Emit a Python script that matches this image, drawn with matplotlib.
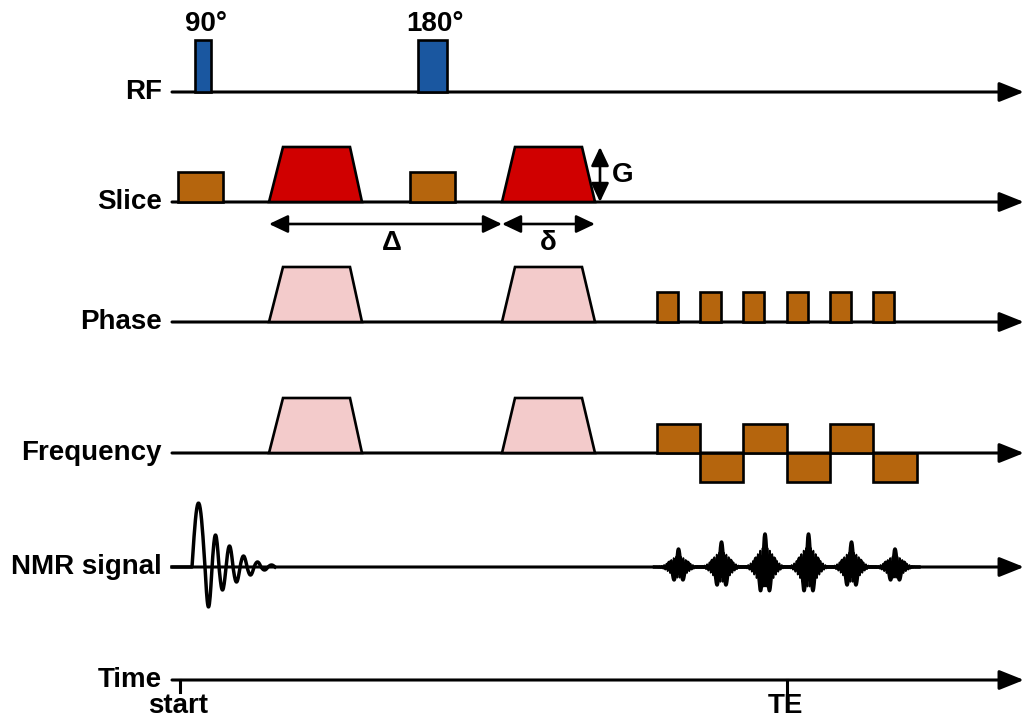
import numpy as np
import matplotlib
matplotlib.use("Agg")
from matplotlib import pyplot as plt
from matplotlib.patches import Polygon, Rectangle

plt.rcParams["font.family"] = ["Liberation Sans", "DejaVu Sans"]

# channel names and baseline positions (top to bottom)
channels = ["RF", "Slice", "Phase", "Frequency", "NMR signal", "Time"]
baselines = [92, 202, 322, 453, 567, 680]

# RF pulses: (start, end), flip angle label
rf_pulses = [(195, 211), (418, 447)]
rf_labels = ["90°", "180°"]
rf_height = 52

# slice-select gradient boxes
slice_boxes = [(178, 223), (410, 455)]
slice_height = 30

# diffusion gradient trapezoids: ramp-up start, plateau start, plateau end, ramp-down end
diff_lobes = [(269, 283, 350, 362), (502, 515, 582, 595)]
diff_height = 55

# phase-encode blips
blip_starts = [657, 700, 743, 787, 830, 873]
blip_width = 21
blip_height = 30

# readout gradient lobes
readout_edges = [657, 700, 743, 787, 830, 873, 917]
readout_signs = [1, -1, 1, -1, 1, -1]
readout_amp = 29

# FID half-cycle amplitudes after the 90° pulse
fid_start = 192
fid_amps = [64, -40, 32, -23, 21, -15, 11, -8, 5, -3, 2]

# echo peak amplitudes, one per readout lobe
echo_amps = [18, 25, 33, 33, 25, 18]

time_ticks = [180, 787]
time_labels = ["start", "TE"]

BLUE = "#1a57a0"
BROWN = "#b5650d"
RED = "#d00000"
PINK = "#f3cbcb"

fig = plt.figure(figsize=(10.27, 7.18), dpi=100)
ax = fig.add_axes([0, 0, 1, 1])
ax.set_xlim(0, 1027)
ax.set_ylim(718, 0)
ax.axis("off")

x0, x1 = 172, 1024
fs = 20
edge = dict(edgecolor="black", linewidth=1.9, zorder=3)

# baselines with arrow heads and channel names
for name, y in zip(channels, baselines):
    ax.annotate("", xy=(x1, y), xytext=(x0, y),
                arrowprops=dict(arrowstyle="-|>,head_length=0.75,head_width=0.3",
                                lw=2.2, color="black", mutation_scale=20,
                                shrinkA=0, shrinkB=0))
    ax.text(162, y, name, ha="right", va="center", fontsize=fs, fontweight="bold")

y_rf, y_sl, y_ph, y_fr, y_sig, y_t = baselines

# RF
for (a, b), lab in zip(rf_pulses, rf_labels):
    ax.add_patch(Rectangle((a, y_rf), b - a, -rf_height, facecolor=BLUE, **edge))
    ax.text((a + b) / 2 + 3, y_rf - rf_height - 16, lab, ha="center", va="center",
            fontsize=fs, fontweight="bold")

# Slice
for a, b in slice_boxes:
    ax.add_patch(Rectangle((a, y_sl), b - a, -slice_height, facecolor=BROWN, **edge))

def trapezoid(lobe, y, h, color):
    a, b, c, d = lobe
    ax.add_patch(Polygon([(a, y), (b, y - h), (c, y - h), (d, y)], closed=True,
                         facecolor=color, joinstyle="miter", **edge))

for lobe in diff_lobes:
    trapezoid(lobe, y_sl, diff_height, RED)
    trapezoid(lobe, y_ph, diff_height, PINK)
    trapezoid(lobe, y_fr, diff_height, PINK)

# G, Delta and delta annotations
dim = dict(arrowstyle="<|-|>,head_length=0.95,head_width=0.45", lw=1.9,
           color="black", mutation_scale=12, shrinkA=0, shrinkB=0)
g_x = diff_lobes[1][3] + 5
ax.annotate("", xy=(g_x, y_sl - diff_height), xytext=(g_x, y_sl), arrowprops=dim)
ax.text(g_x + 23, y_sl - diff_height / 2, "G", ha="center", va="center",
        fontsize=fs, fontweight="bold")

y_dim = 224
ax.annotate("", xy=(diff_lobes[0][0], y_dim), xytext=(diff_lobes[1][0], y_dim), arrowprops=dim)
ax.annotate("", xy=(diff_lobes[1][0], y_dim), xytext=(diff_lobes[1][3], y_dim), arrowprops=dim)
ax.text(392, y_dim + 19, "Δ", ha="center", va="center", fontsize=fs, fontweight="bold")
ax.text(548, y_dim + 19, "δ", ha="center", va="center", fontsize=fs, fontweight="bold")

# Phase blips
for a in blip_starts:
    ax.add_patch(Rectangle((a, y_ph), blip_width, -blip_height, facecolor=BROWN, **edge))

# Frequency readout
for a, b, s in zip(readout_edges[:-1], readout_edges[1:], readout_signs):
    ax.add_patch(Rectangle((a, y_fr), b - a, -s * readout_amp, facecolor=BROWN, **edge))

# FID: one sine arch per half cycle
xs, ys = [x0, fid_start], [y_sig, y_sig]
pos = fid_start
for i, amp in enumerate(fid_amps):
    w = 13 if i == 0 else 7
    t = np.linspace(0, 1, 20)
    xs.extend(pos + w * t)
    ys.extend(y_sig - amp * np.sin(np.pi * t))
    pos += w
ax.plot(xs, ys, color="black", lw=2.5, zorder=4, solid_joinstyle="round")

# echoes centred on each readout lobe
for a, b, amp in zip(readout_edges[:-1], readout_edges[1:], echo_amps):
    c = (a + b) / 2
    dx = np.linspace(-24, 24, 900)
    body = np.exp(-(dx / 11.0) ** 2)
    ax.fill_between(c + dx, y_sig - 0.42 * amp * body,
                    y_sig + 0.42 * amp * body, color="black", lw=0, zorder=4)
    spikes = np.exp(-(dx / 8.0) ** 2) * np.cos(2 * np.pi * dx / 9.5)
    ax.plot(c + dx, y_sig - amp * spikes, color="black", lw=2.5, zorder=4)
    ripple = body * np.cos(2 * np.pi * dx / 2.4)
    ax.plot(c + dx, y_sig - 0.6 * amp * ripple, color="black", lw=1.3, zorder=4)

# time axis ticks
for x, lab in zip(time_ticks, time_labels):
    ax.plot([x, x], [y_t, y_t + 12], color="black", lw=2.2)
    ax.text(x - 2, y_t + 26, lab, ha="center", va="center", fontsize=fs, fontweight="bold")

fig.savefig("out.png", dpi=100)
